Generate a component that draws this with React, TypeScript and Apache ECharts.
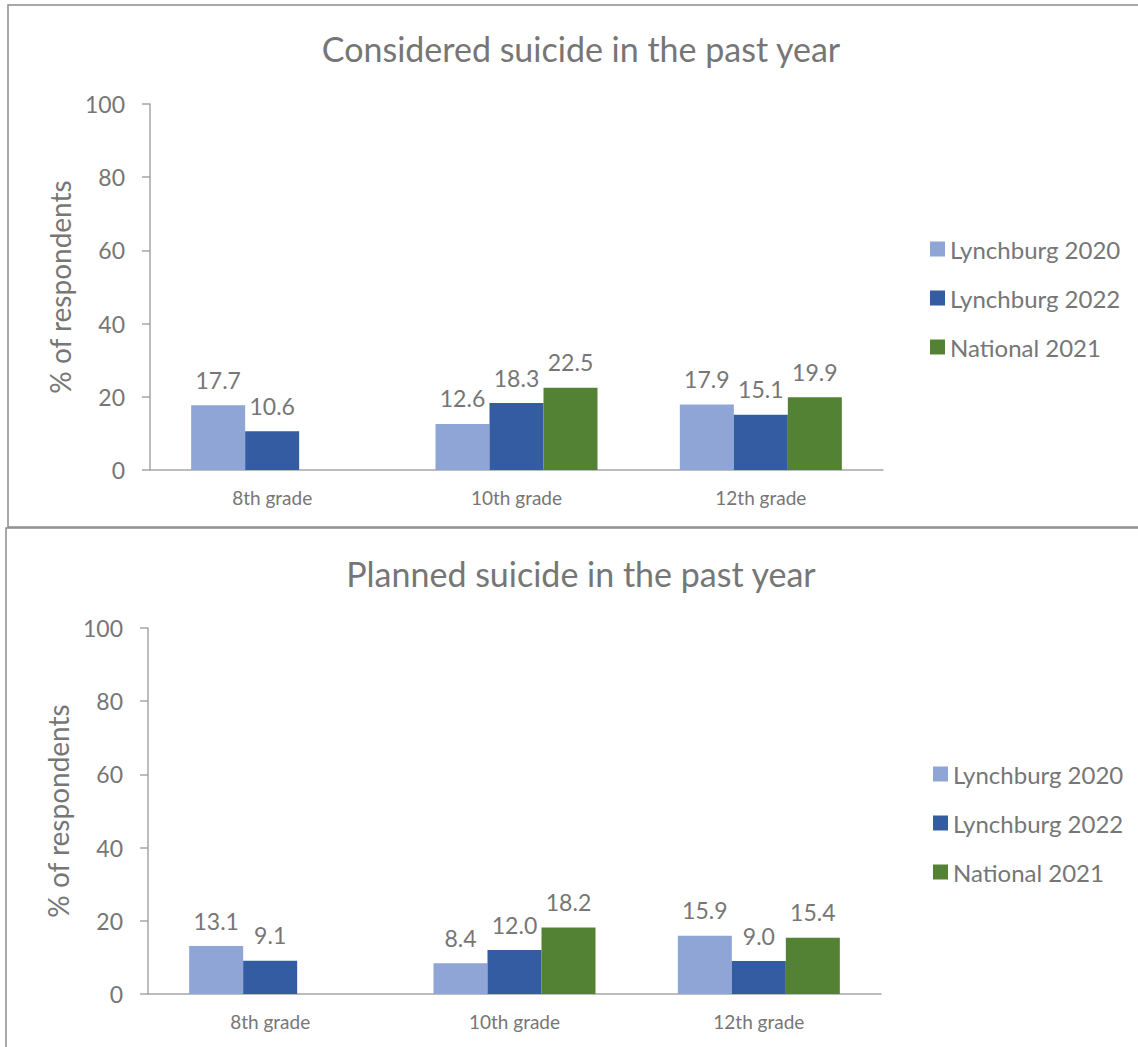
import React, { useEffect, useRef } from "react";
import * as echarts from "echarts";

const categories = ["8th grade", "10th grade", "12th grade"];
const seriesNames = ["Lynchburg 2020", "Lynchburg 2022", "National 2021"];
const colors = ["#8FA5D5", "#335CA3", "#548235"];
const consideredL2020 = [17.7, 12.6, 17.9];
const consideredL2022 = [10.6, 18.3, 15.1];
const consideredN2021 = [null, 22.5, 19.9];
const plannedL2020 = [13.1, 8.4, 15.9];
const plannedL2022 = [9.1, 12.0, 9.0];
const plannedN2021 = [null, 18.2, 15.4];
const yTicks = { min: 0, max: 100, interval: 20 };
const titles = ["Considered suicide in the past year", "Planned suicide in the past year"];
const yName = "% of respondents";

const FONT = "Lato";
const GREY = "#767676";

export default function App() {
  const ref = useRef<HTMLDivElement>(null);
  useEffect(() => {
    document.body.style.margin = "0";
    const chart = echarts.init(ref.current!, null, { renderer: "svg" });
    const panels = [
      { data: [consideredL2020, consideredL2022, consideredN2021], top: 104, left: 150, titleTop: 26, legendTop: 232, legendLeft: 925 },
      { data: [plannedL2020, plannedL2022, plannedN2021], top: 628, left: 148, titleTop: 551, legendTop: 757, legendLeft: 928 },
    ];
    const grids = panels.map((p) => ({ left: p.left, top: p.top, width: 733, height: 366 }));
    const xAxes = panels.map((_, i) => ({
      type: "category",
      gridIndex: i,
      data: categories,
      axisLine: { lineStyle: { color: "#A6A6A6", width: 1.5 } },
      axisTick: { show: false },
      axisLabel: { color: GREY, fontSize: 19, fontFamily: FONT, margin: 18 },
    }));
    const yAxes = panels.map((_, i) => ({
      type: "value",
      gridIndex: i,
      min: yTicks.min,
      max: yTicks.max,
      interval: yTicks.interval,
      name: yName,
      nameLocation: "middle",
      nameGap: 74,
      nameTextStyle: { color: GREY, fontSize: 28, fontFamily: FONT },
      axisLine: { show: true, lineStyle: { color: "#A6A6A6", width: 1.5 } },
      axisTick: { show: true, length: 8, lineStyle: { color: "#A6A6A6", width: 1.5 } },
      splitLine: { show: false },
      axisLabel: { color: GREY, fontSize: 23, fontFamily: FONT, margin: 25 },
    }));
    const series: any[] = [];
    panels.forEach((p, i) => {
      p.data.forEach((d, j) => {
        series.push({
          type: "bar",
          name: seriesNames[j],
          xAxisIndex: i,
          yAxisIndex: i,
          data: d,
          barWidth: 54,
          barGap: "0%",
          itemStyle: { color: colors[j] },
          label: {
            show: true,
            position: "top",
            distance: 14,
            color: GREY,
            fontSize: 23,
            fontFamily: FONT,
            formatter: (v: any) => (v.value == null ? "" : Number(v.value).toFixed(1)),
          },
        });
      });
    });
    chart.setOption({
      animation: false,
      title: panels.map((p, i) => ({
        text: titles[i],
        left: 576,
        top: p.titleTop,
        textAlign: "center",
        textStyle: { color: GREY, fontSize: 34, fontWeight: "normal", fontFamily: FONT },
      })),
      legend: panels.map((p) => ({
        data: seriesNames,
        orient: "vertical",
        left: p.legendLeft,
        top: p.legendTop,
        itemWidth: 15,
        itemHeight: 15,
        itemGap: 25,
        icon: "rect",
        textStyle: { color: GREY, fontSize: 24, fontFamily: FONT },
      })),
      grid: grids,
      xAxis: xAxes,
      yAxis: yAxes,
      series,
      graphic: [
        { type: "rect", shape: { x: 8, y: 5, width: 1140, height: 522 }, style: { fill: "none", stroke: "#8C8C8C", lineWidth: 1.5 }, z: -1 },
        { type: "rect", shape: { x: 6, y: 528, width: 1140, height: 600 }, style: { fill: "none", stroke: "#8C8C8C", lineWidth: 1.5 }, z: -1 },
      ],
    });
    return () => chart.dispose();
  }, []);
  return <div ref={ref} style={{ position: "absolute", left: 0, top: 0, width: 1138, height: 1047, background: "#fff" }} />;
}
